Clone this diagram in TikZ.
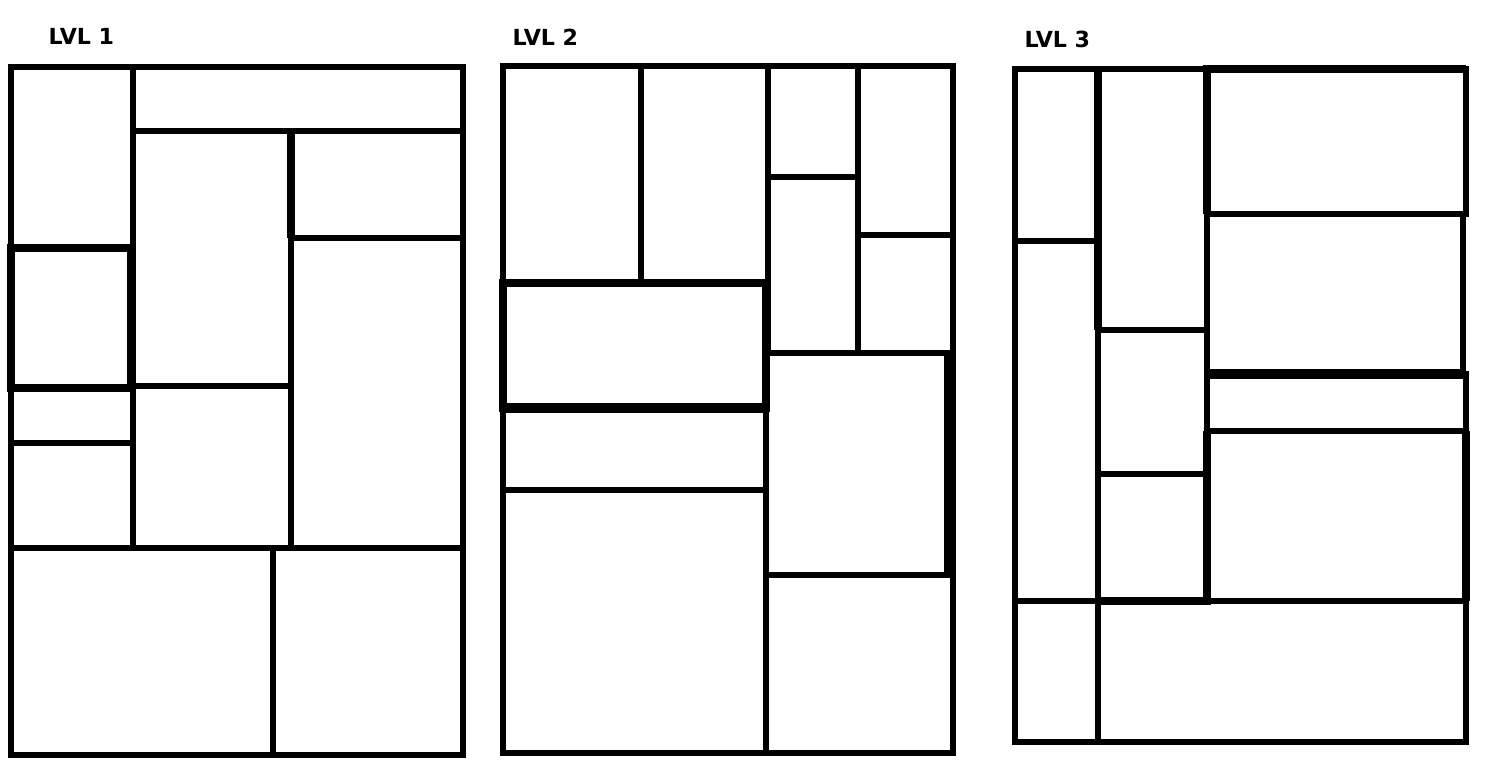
\documentclass[tikz,border=0pt]{standalone}
\usepackage{fontspec}
\usepackage{tikz}
\newfontfamily\lvlfont{DejaVu Sans}
\tikzset{
  cell/.style={draw=black, line width=1.6pt},
  boldcell/.style={draw=black, line width=2.2pt},
  heavycell/.style={draw=black, line width=2.8pt},
  lvllabel/.style={anchor=base west, inner sep=0pt, font=\lvlfont\bfseries\fontsize{6.3}{7}\selectfont}
}

\begin{document}
\begin{tikzpicture}[x=0.01cm, y=-0.01cm]
    \useasboundingbox (0,0) rectangle (1490,778);

    % level 1
    \node[lvllabel] (lvlone) at (48,44){LVL 1};
    \draw[cell] (11,67) rectangle (133,248);
    \draw[cell] (133,67) rectangle (463,131);
    \draw[cell] (11,388) rectangle (133,443);
    \draw[cell] (11,443) rectangle (133,548);
    \draw[cell] (133,131) rectangle (291,386);
    \draw[cell] (133,386) rectangle (291,548);
    \draw[cell] (291,131) rectangle (463,238);
    \draw[cell] (291,238) rectangle (463,548);
    \draw[cell] (11,548) rectangle (273,755);
    \draw[cell] (273,548) rectangle (463,755);
    \draw[boldcell] (11,248) rectangle (131,388);
    \draw[boldcell] (291,131) -- (291,238);

    % level 2
    \node[lvllabel] (lvltwo) at (512,45){LVL 2};
    \draw[cell] (503,66) rectangle (641,283);
    \draw[cell] (641,66) rectangle (768,283);
    \draw[cell] (768,66) rectangle (858,177);
    \draw[cell] (768,177) rectangle (858,353);
    \draw[cell] (858,66) rectangle (953,235);
    \draw[cell] (858,235) rectangle (953,353);
    \draw[cell] (503,408) rectangle (766,490);
    \draw[cell] (503,490) rectangle (766,753);
    \draw[cell] (766,353) rectangle (948,575);
    \draw[cell] (766,575) rectangle (953,753);
    \draw[cell] (953,353) -- (953,575);
    \draw[boldcell] (503,283) rectangle (766,408);
    \draw[heavycell] (503,408) -- (766,408);
    \draw[boldcell] (948,353) -- (948,575);

    % level 3
    \node[lvllabel] (lvlthree) at (1024,47){LVL 3};
    \draw[cell] (1015,69) rectangle (1098,241);
    \draw[cell] (1015,241) rectangle (1098,601);
    \draw[cell] (1015,601) rectangle (1098,742);
    \draw[cell] (1098,69) rectangle (1207,330);
    \draw[cell] (1098,330) rectangle (1207,474);
    \draw[cell] (1098,474) rectangle (1207,601);
    \draw[cell] (1207,69) rectangle (1466,214);
    \draw[cell] (1207,214) rectangle (1463,374);
    \draw[cell] (1207,374) rectangle (1466,431);
    \draw[cell] (1207,431) rectangle (1466,601);
    \draw[cell] (1098,601) rectangle (1466,742);
    \draw[boldcell] (1098,69) -- (1098,330);
    \draw[boldcell] (1207,214) -- (1207,69) -- (1466,69);
    \draw[heavycell] (1207,374) -- (1463,374);
    \draw[boldcell] (1098,601) -- (1207,601) -- (1207,431);
    \draw[boldcell] (1466,431) -- (1466,601);
\end{tikzpicture}
\end{document}
